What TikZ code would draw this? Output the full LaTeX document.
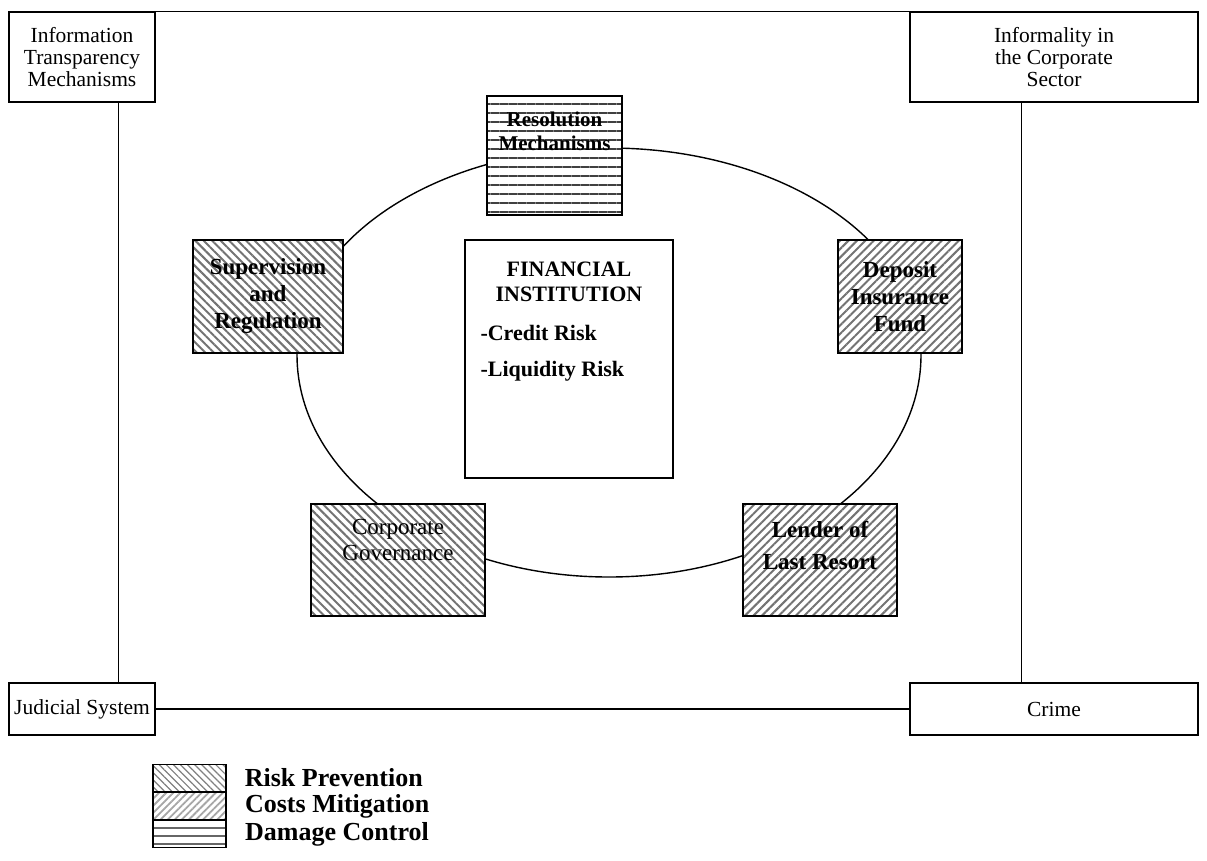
\documentclass[tikz,border=0pt]{standalone}
\usepackage{fontspec}
\setmainfont{Liberation Serif}
\usetikzlibrary{patterns.meta,calc}
\begin{document}
\begin{tikzpicture}[x=1pt,y=-1pt,
  box/.style={draw,line width=1.4pt,inner sep=0pt,fill=white,align=center,
    font=\fontsize{21.5}{22}\selectfont},
  riskpat/.style={box,preaction={fill=white},pattern={Lines[angle=-45,distance=6pt,line width=2pt]},pattern color=black!55},
  costpat/.style={box,preaction={fill=white},pattern={Lines[angle=45,distance=6pt,line width=2pt]},pattern color=black!55},
  dmgpat/.style={box,preaction={fill=white},pattern={Lines[angle=0,distance=9pt,line width=2.2pt]},pattern color=black!75},
  bt/.style={inner sep=0pt,align=center,font=\fontsize{22}{25}\selectfont\bfseries},
  nt/.style={inner sep=0pt,align=center,font=\fontsize{23}{26}\selectfont},
  lg/.style={inner sep=0pt,anchor=west,font=\fontsize{26}{28}\selectfont\bfseries},
  ln/.style={line width=1.4pt}]
\useasboundingbox (0,0) rectangle (1207,860);
% outer frame
\node[box,minimum width=146pt,minimum height=90pt] (info) at (82,57) {Information\\Transparency\\Mechanisms};
\node[box,minimum width=288pt,minimum height=90pt] (infor) at (1054,57) {Informality in\\the Corporate\\Sector};
\node[box,minimum width=146pt,minimum height=52pt] (jud) at (82,709) {Judicial System};
\node[box,minimum width=288pt,minimum height=52pt] (crime) at (1054,709) {Crime};
\draw[ln] (info.north east) -- (infor.north west);
\draw[ln] (jud.east) -- (crime.west);
\draw[ln] ([xshift=110pt]info.south west) -- ([xshift=110pt]jud.north west);
\draw[ln] ([xshift=112pt]infor.south west) -- ([xshift=112pt]crime.north west);
% ellipse (upper and lower halves)
\draw[ln] (297,355) arc[start angle=180,end angle=360,x radius=312,y radius=207]
               arc[start angle=0,end angle=180,x radius=312,y radius=222];
% inner boxes
\node[dmgpat,minimum width=135pt,minimum height=119pt] (res) at (554.5,155.5) {};
\node[bt,anchor=north,font=\fontsize{21}{24}\selectfont\bfseries] (resT) at ([yshift=-17pt]res.north) {Resolution\\Mechanisms};
\node[riskpat,minimum width=150pt,minimum height=113pt,font=\fontsize{23}{27}\selectfont\bfseries] (sup) at (268,296.5) {Supervision\\and\\Regulation};
\node[costpat,minimum width=124pt,minimum height=113pt,font=\fontsize{23}{27}\selectfont\bfseries] (dep) at (900,296.5) {Deposit\\Insurance\\Fund};
\node[box,minimum width=208pt,minimum height=238pt] (fi) at (569,359) {};
\node[bt,anchor=north] (fiT) at ([yshift=-22pt]fi.north) {FINANCIAL\\INSTITUTION};
\node[bt,anchor=west] (cr) at ([xshift=16pt,yshift=26pt]fi.west) {-Credit Risk};
\node[bt,anchor=west] (lr) at ([xshift=16pt,yshift=-12pt]fi.west) {-Liquidity Risk};
\node[riskpat,minimum width=174pt,minimum height=112pt] (corp) at (398,560) {};
\node[nt,anchor=north] (corpT) at ([yshift=-16pt]corp.north) {Corporate\\Governance};
\node[costpat,minimum width=154pt,minimum height=112pt] (lend) at (820,560) {};
\node[bt,anchor=north,font=\fontsize{23}{32}\selectfont\bfseries] (lendT) at ([yshift=-18pt]lend.north) {Lender of\\Last Resort};
% legend
\node[riskpat,minimum width=73pt,minimum height=27pt,pattern={Lines[angle=-45,distance=5pt,line width=1.2pt]},pattern color=black!50] (l1) at (189.5,778) {};
\node[costpat,minimum width=73pt,minimum height=27pt,pattern={Lines[angle=45,distance=5pt,line width=1.8pt]},pattern color=black!35] (l2) at (189.5,806) {};
\node[dmgpat,minimum width=73pt,minimum height=27pt,pattern={Lines[angle=0,distance=8pt,line width=2pt]},pattern color=black!60] (l3) at (189.5,834) {};
\node[lg] (t1) at ([xshift=18pt]l1.east) {Risk Prevention};
\node[lg] (t2) at ([xshift=18pt]l2.east) {Costs Mitigation};
\node[lg] (t3) at ([xshift=18pt]l3.east) {Damage Control};
\end{tikzpicture}
\end{document}
